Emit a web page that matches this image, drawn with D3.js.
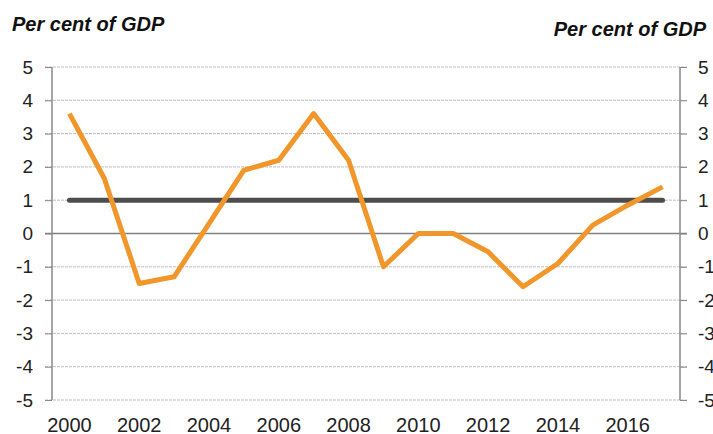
<!DOCTYPE html>
<html><head><meta charset="utf-8">
<script src="https://cdn.jsdelivr.net/npm/d3@7"></script>
<style>body{margin:0;background:#fff}svg{display:block}text{font-family:"Liberation Sans",Arial,sans-serif}</style>
</head><body><svg id="c" width="713" height="434"></svg>
<script>
const years = [2000,2001,2002,2003,2004,2005,2006,2007,2008,2009,2010,2011,2012,2013,2014,2015,2016,2017];
const balance = [3.6,1.65,-1.5,-1.3,0.3,1.9,2.2,3.6,2.2,-1.0,0.0,0.0,-0.55,-1.6,-0.9,0.25,0.85,1.4];
const reference = [1,1,1,1,1,1,1,1,1,1,1,1,1,1,1,1,1,1];
const yTicks = [5,4,3,2,1,0,-1,-2,-3,-4,-5];
const xTickLabels = [2000,2002,2004,2006,2008,2010,2012,2014,2016];
const unitLabel = "Per cent of GDP";

const svg = d3.select("#c");
const L=52, R=680, T=67, B=400;
const x = d3.scaleBand().domain(years).range([L,R]);
const y = d3.scaleLinear().domain([-5,5]).range([B,T]);
const cx = d => x(d)+x.bandwidth()/2;

// gridlines
svg.append("g").selectAll("line").data(yTicks.filter(v=>v!==0)).join("line")
  .attr("x1",L-7).attr("x2",R+7).attr("y1",d=>y(d)).attr("y2",d=>y(d))
  .attr("stroke","#bdbdbd").attr("stroke-width",1).attr("stroke-dasharray","3,1");
// zero line
svg.append("line").attr("x1",L-7).attr("x2",R+7).attr("y1",y(0)).attr("y2",y(0))
  .attr("stroke","#808080").attr("stroke-width",1.5);

// axes
const yl = svg.append("g").attr("transform",`translate(${L},0)`)
  .call(d3.axisLeft(y).tickValues(yTicks).tickSize(7).tickPadding(12).tickFormat(d3.format("d")));
const yr = svg.append("g").attr("transform",`translate(${R},0)`)
  .call(d3.axisRight(y).tickValues(yTicks).tickSize(7).tickPadding(11).tickFormat(d3.format("d")));
[yl,yr].forEach(g=>{
  g.select(".domain").attr("stroke","#888").attr("stroke-width",1.5).attr("d",`M0,${T}V${B}`);
  g.selectAll(".tick line").attr("stroke","#888");
  g.selectAll(".tick text").attr("font-size",19).attr("fill","#222");
});
yl.selectAll(".tick text").text(d=>d<0?"-"+Math.abs(d):d);
yr.selectAll(".tick text").text(d=>d<0?"-"+Math.abs(d):d);

const xa = svg.append("g").attr("transform",`translate(0,${B})`)
  .call(d3.axisBottom(x).tickValues(xTickLabels).tickSize(0).tickPadding(18));
xa.select(".domain").remove();
xa.selectAll(".tick text").attr("font-size",20).attr("fill","#222");

// reference line
svg.append("path").datum(reference.map((v,i)=>[years[i],v]))
  .attr("d",d3.line().x(d=>cx(d[0])).y(d=>y(d[1])))
  .attr("stroke","#4d4d4d").attr("stroke-width",5).attr("fill","none").attr("stroke-linecap","round");
// balance line
svg.append("path").datum(balance.map((v,i)=>[years[i],v]))
  .attr("d",d3.line().x(d=>cx(d[0])).y(d=>y(d[1])))
  .attr("stroke","#F0962A").attr("stroke-width",5).attr("fill","none").attr("stroke-linejoin","round");

// titles
svg.append("text").attr("x",12).attr("y",31).attr("font-size",20).attr("font-weight","bold").attr("font-style","italic").attr("fill","#111").text(unitLabel);
svg.append("text").attr("x",706).attr("y",36).attr("text-anchor","end").attr("font-size",20).attr("font-weight","bold").attr("font-style","italic").attr("fill","#111").text(unitLabel);
</script></body></html>
